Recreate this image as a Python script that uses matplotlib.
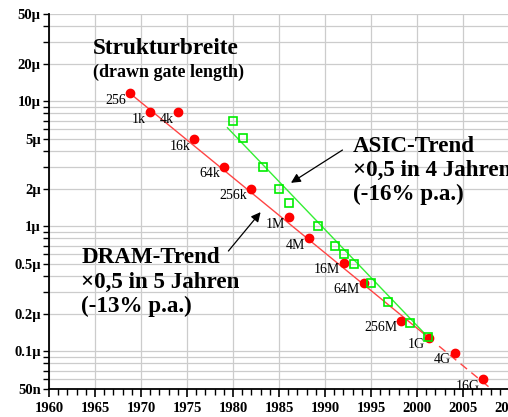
import matplotlib
matplotlib.use("Agg")
import matplotlib.pyplot as plt
from matplotlib.ticker import FixedLocator, FixedFormatter, MultipleLocator, NullFormatter

# DRAM-Generationen (Jahr, Strukturbreite in µm)
dram_jahr = [1968.8, 1971.0, 1974.0, 1975.8, 1979.0, 1982.0, 1986.1, 1988.3,
             1992.1, 1994.2, 1998.3, 2001.3, 2004.1, 2007.2]
dram_breite = [11.6, 8.2, 8.2, 5.0, 3.0, 2.0, 1.18, 0.8,
               0.51, 0.355, 0.175, 0.128, 0.0975, 0.06]
dram_namen = ["256", "1k", "4k", "16k", "64k", "256k", "1M", "4M",
              "16M", "64M", "256M", "1G", "4G", "16G"]

# ASIC
asic_jahr = [1980.0, 1981.05, 1983.3, 1985.0, 1986.1, 1989.2, 1991.1, 1992.1,
             1993.15, 1995.0, 1996.9, 1999.2, 2001.2]
asic_breite = [7.0, 5.1, 3.0, 2.0, 1.55, 1.0, 0.7, 0.6,
               0.5, 0.355, 0.25, 0.17, 0.13]

# Trendlinien
dram_trend_x = [1968.8, 2001.3]
dram_trend_y = [11.6, 0.128]
dram_prog_x = [2002.4, 2007.9]
dram_prog_y = [0.110, 0.0513]
asic_trend_x = [1979.4, 2001.2]
asic_trend_y = [6.15, 0.13]

y_ticks = [0.05, 0.1, 0.2, 0.5, 1, 2, 5, 10, 20, 50]
y_labels = ["50n", "0.1\u03bc", "0.2\u03bc", "0.5\u03bc", "1\u03bc", "2\u03bc",
            "5\u03bc", "10\u03bc", "20\u03bc", "50\u03bc"]
y_minor = [m * d for d in (0.01, 0.1, 1, 10) for m in range(1, 10)]

plt.rcParams['font.family'] = ['Liberation Serif', 'DejaVu Serif']

fig = plt.figure(figsize=(5.08, 4.17), dpi=100)
ax = fig.add_axes([49 / 508, 28 / 417, 460 / 508, 375 / 417])

ax.set_yscale('log')
ax.set_xlim(1960, 2010)
ax.set_ylim(0.05, 50)

ax.plot(asic_trend_x, asic_trend_y, color='#33ee33', lw=1.0, zorder=3)
ax.plot(dram_trend_x, dram_trend_y, color='#ff4444', lw=1.0, zorder=3)
ax.plot(dram_prog_x, dram_prog_y, color='#ff4444', lw=1.0, ls=(0, (6, 4)), zorder=3)
ax.plot(dram_jahr, dram_breite, 'o', color='#ff0000', ms=6, mec='#ff0000', zorder=4)
ax.plot(asic_jahr, asic_breite, 's', mfc='none', mec='#00ee00', mew=1.2, ms=5.5, zorder=5)

for x, y, t in zip(dram_jahr, dram_breite, dram_namen):
    ax.annotate(t, (x, y), xytext=(-4, -7), textcoords='offset pixels',
                ha='right', va='center', fontsize=10, zorder=6)

# Achsen
y_minor_in = [v for v in y_minor if 0.05 <= v <= 50 and v not in y_ticks]
ax.yaxis.set_major_locator(FixedLocator(y_ticks))
ax.yaxis.set_major_formatter(FixedFormatter(y_labels))
ax.yaxis.set_minor_locator(FixedLocator(y_minor_in))
ax.yaxis.set_minor_formatter(NullFormatter())
ax.xaxis.set_major_locator(MultipleLocator(5))
ax.xaxis.set_minor_locator(MultipleLocator(1))

ax.grid(True, which='both', axis='y', color='#cccccc', lw=0.9, zorder=0)
ax.grid(True, which='major', axis='x', color='#cccccc', lw=0.9, zorder=0)
ax.set_axisbelow(True)

for s in ('top', 'right'):
    ax.spines[s].set_visible(False)
for s in ('left', 'bottom'):
    ax.spines[s].set_linewidth(1.3)

ax.tick_params(axis='y', which='both', length=4, width=1.0, direction='out', pad=2)
ax.tick_params(axis='x', which='major', length=6, width=1.2, pad=3)
ax.tick_params(axis='x', which='minor', length=4, width=1.0)
for lab in ax.get_xticklabels() + ax.get_yticklabels():
    lab.set_fontweight('bold')
    lab.set_fontsize(10.5)

# Texte
ax.text(1964.75, 31.9, "Strukturbreite", fontsize=16.8, fontweight='bold',
        ha='left', va='top')
ax.text(1964.75, 20.2, "(drawn gate length)", fontsize=13, fontweight='bold',
        ha='left', va='top')
ax.text(1993.0, 5.3, "ASIC-Trend\n\u00d70,5 in 4 Jahren\n(-16% p.a.)",
        fontsize=16.6, fontweight='bold', ha='left', va='top', linespacing=1.2)
ax.text(1963.5, 0.68, "DRAM-Trend\n\u00d70,5 in 5 Jahren\n(-13% p.a.)",
        fontsize=16.6, fontweight='bold', ha='left', va='top', linespacing=1.2)

ax.annotate("", xy=(1986.3, 2.23), xytext=(1991.9, 4.08),
            arrowprops=dict(arrowstyle='-|>', color='black', lw=0.9,
                            mutation_scale=14, shrinkA=0, shrinkB=0))
ax.annotate("", xy=(1983.0, 1.30), xytext=(1979.5, 0.635),
            arrowprops=dict(arrowstyle='-|>', color='black', lw=0.9,
                            mutation_scale=14, shrinkA=0, shrinkB=0))

fig.savefig("out.png", dpi=100)
